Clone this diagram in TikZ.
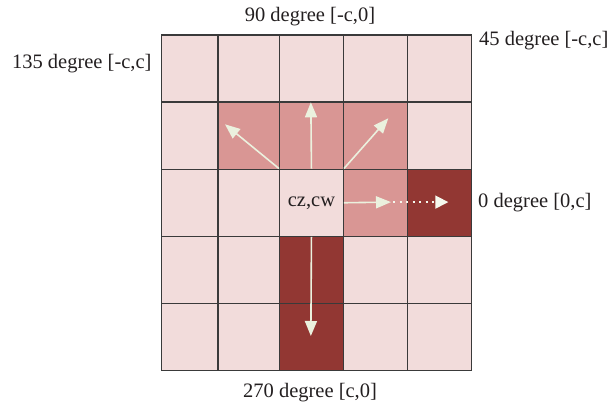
\documentclass[tikz,border=0pt]{standalone}
\usepackage{fontspec}
\setmainfont{Liberation Serif}
\usetikzlibrary{arrows.meta}
\definecolor{cellL}{HTML}{F2DCDB}
\definecolor{cellM}{HTML}{D99694}
\definecolor{cellD}{HTML}{923733}
\definecolor{gridc}{HTML}{3A3A3A}
\definecolor{arrowc}{HTML}{EBF1DE}
\definecolor{txtc}{HTML}{231F20}
\begin{document}
\begin{tikzpicture}[x=1pt,y=-1pt,
  cell/.style={draw=gridc, line width=1.2pt, inner sep=0pt, anchor=north west, minimum height=67.14pt},
  lbl/.style={font=\fontsize{20.5}{24}\selectfont, text=txtc, inner sep=0pt},
  arr/.style={draw=arrowc, line width=1.6pt, -{Triangle[length=15pt,width=12pt,fill=arrowc]}},
  dotarr/.style={draw=arrowc!50!white, line width=1.6pt, dash pattern=on 2pt off 4.5pt, -{Triangle[length=13pt,width=13pt,fill=arrowc!50!white]}}
]
\useasboundingbox (0,0) rectangle (610,407);
% base grid
\foreach \r in {0,...,4}{
  \foreach \c/\x/\w in {0/160.5/56.8, 1/217.3/61.7, 2/279/63.7, 3/342.7/64, 4/406.7/64.3}{
    \node[cell, fill=cellL, minimum width=\w pt] (c\r\c) at (\x, {34.3+\r*67.14}) {};
  }
}
% highlighted cells
\node[cell, fill=cellM, minimum width=61.7pt] (c11) at (217.3, 101.44) {};
\node[cell, fill=cellM, minimum width=63.7pt] (c12) at (279, 101.44) {};
\node[cell, fill=cellM, minimum width=64pt] (c13) at (342.7, 101.44) {};
\node[cell, fill=cellM, minimum width=64pt] (c23) at (342.7, 168.58) {};
\node[cell, fill=cellD, minimum width=64.3pt] (c24) at (406.7, 168.58) {};
\node[cell, fill=cellD, minimum width=63.7pt] (c32) at (279, 235.72) {};
\node[cell, fill=cellD, minimum width=63.7pt] (c42) at (279, 302.86) {};
% centre text
\node[lbl] (cz) at (c22.center) {cz,cw};
% arrow end points
\coordinate (nwE) at (225,124.3);
\coordinate (upE) at (310.85,102.3);
\coordinate (neE) at (388.3,118.3);
\coordinate (rtE) at (391,202.1);
\coordinate (dtS) at (393,202.1);
\coordinate (dtE) at (448.3,202.1);
\coordinate (dnE) at (310.85,336);
% arrows
\draw[arr] (c22.north west) -- (nwE);
\draw[arr] (c22.north) -- (upE);
\draw[arr] (c22.north east) -- (neE);
\draw[arr] (c22.east) -- (rtE);
\draw[dotarr] (dtS) -- (dtE);
\draw[arr] (c22.south) -- (dnE);
% labels
\node[lbl, anchor=base] (l90) at (310,21.7) {90 degree [-c,0]};
\node[lbl, anchor=base west] (l45) at (479,45) {45 degree [-c,c]};
\node[lbl, anchor=base east] (l135) at (151.7,68) {135 degree [-c,c]};
\node[lbl, anchor=base west] (l0) at (478,207) {0 degree [0,c]};
\node[lbl, anchor=base] (l270) at (310,397) {270 degree [c,0]};
\end{tikzpicture}
\end{document}
